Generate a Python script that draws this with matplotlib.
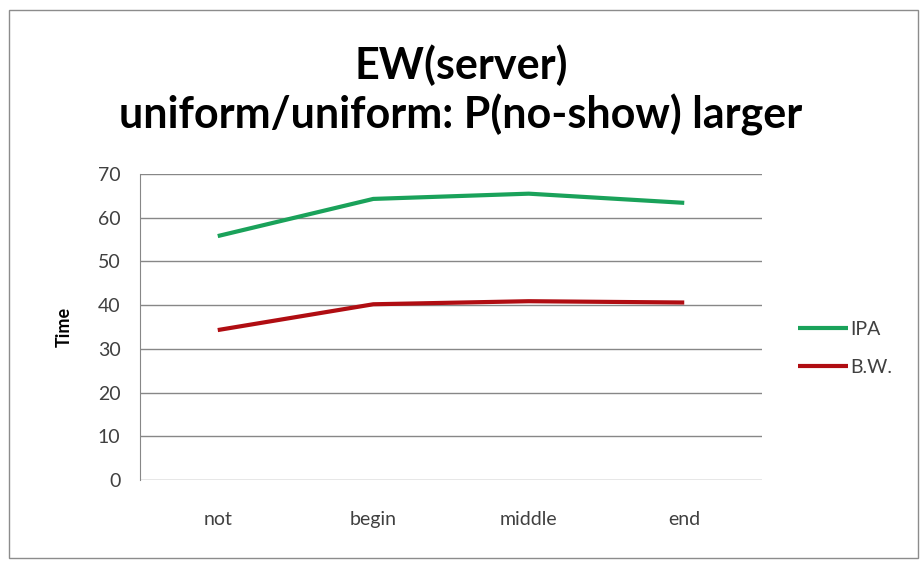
import matplotlib.pyplot as plt
from matplotlib.patches import Rectangle

# Expected waiting time of the server per no-show position
positions = ["not", "begin", "middle", "end"]
ipa = [55.8, 64.3, 65.5, 63.4]
bw = [34.3, 40.2, 40.9, 40.6]

plt.rcParams['font.family'] = ['Lato', 'DejaVu Sans']

fig = plt.figure(figsize=(9.22, 5.61), dpi=100)
ax = fig.add_axes([140 / 922, 1 - 480 / 561, 622 / 922, 306 / 561])

x = range(len(positions))
ax.plot(x, ipa, color='#1aa25a', lw=3, label='IPA', solid_capstyle='butt')
ax.plot(x, bw, color='#b00d12', lw=3, label='B.W.', solid_capstyle='butt')

ax.set_xlim(-0.5, len(positions) - 0.5)
ax.set_ylim(0, 70)
ax.set_yticks(range(0, 71, 10))
ax.set_xticks(list(x))
ax.set_xticklabels(positions)
ax.tick_params(axis='both', length=0, labelsize=14, colors='#404040')
ax.tick_params(axis='x', pad=22)
ax.tick_params(axis='y', pad=14)
ax.grid(axis='y', color='#878787', lw=1)
ax.set_axisbelow(True)
for side in ['top', 'right', 'bottom']:
    ax.spines[side].set_visible(False)
ax.spines['left'].set_color('#878787')
ax.set_ylabel("Time", fontsize=13, fontweight='bold', labelpad=18)

ax.legend(loc='center left', bbox_to_anchor=(780 / 622 - 140 / 622, 0.43),
          frameon=False, fontsize=14, handlelength=2.6, handletextpad=0.1,
          labelspacing=1.1, labelcolor='#404040')

fig.text(0.5, 1 - 65 / 561, "EW(server)", ha='center', va='center',
         fontsize=31, fontweight='bold')
fig.text(0.5, 1 - 115 / 561, "uniform/uniform: P(no-show) larger",
         ha='center', va='center', fontsize=31, fontweight='bold')

# chart frame
fig.patches.append(Rectangle((9 / 922, 3 / 561), 909 / 922, 548 / 561,
                             transform=fig.transFigure, fill=False,
                             edgecolor='#8c8c8c', lw=1))

fig.savefig("out.png", dpi=100)
